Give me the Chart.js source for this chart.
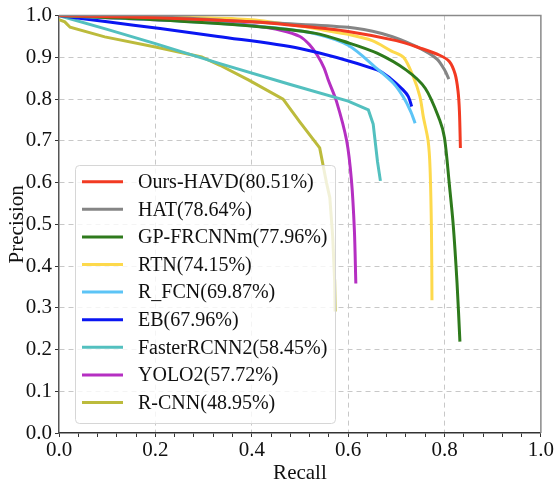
<!DOCTYPE html>
<html>
<head>
<meta charset="utf-8">
<script src="https://cdn.jsdelivr.net/npm/chart.js@4.4.0/dist/chart.umd.min.js"></script>
<style>
  html, body { margin: 0; padding: 0; background: #fff; }
  #wrap { width: 555px; height: 486px; }
</style>
</head>
<body>
<div id="wrap"><canvas id="chartPR"></canvas></div>
<script>
// precision-recall data
let labels = ['Ours-HAVD(80.51%)', 'HAT(78.64%)', 'GP-FRCNNm(77.96%)', 'RTN(74.15%)', 'R_FCN(69.87%)',
    'EB(67.96%)', 'FasterRCNN2(58.45%)', 'YOLO2(57.72%)', 'R-CNN(48.95%)'];
let colors = ['#f23a22', '#858585', '#2e7a1c', '#fdd94c', '#5cc4f6', '#0a16f2', '#53c0bf', '#b52fc2', '#bcbb3c'];

let recallHAVD = [0, 0.2, 0.4, 0.5, 0.6, 0.7, 0.75, 0.79, 0.81, 0.822, 0.828, 0.831, 0.833];
let precisionHAVD = [1.0, 0.995, 0.985, 0.975, 0.962, 0.94, 0.922, 0.905, 0.89, 0.86, 0.82, 0.77, 0.683];

let recallHAT = [0, 0.2, 0.32, 0.45, 0.6, 0.67, 0.72, 0.76, 0.785, 0.8, 0.809];
let precisionHAT = [1.0, 0.997, 0.99, 0.982, 0.972, 0.957, 0.937, 0.915, 0.895, 0.87, 0.848];

let recallGP = [0, 0.2, 0.4, 0.53, 0.6, 0.66, 0.72, 0.76, 0.79, 0.8, 0.81, 0.818, 0.826, 0.832];
let precisionGP = [1.0, 0.99, 0.975, 0.958, 0.935, 0.91, 0.87, 0.826, 0.75, 0.707, 0.596, 0.5, 0.36, 0.219];

let recallRTN = [0, 0.3, 0.4, 0.5, 0.55, 0.6, 0.65, 0.69, 0.715, 0.735, 0.749, 0.756, 0.766, 0.77, 0.773, 0.774];
let precisionRTN = [1.0, 0.995, 0.99, 0.975, 0.965, 0.955, 0.94, 0.915, 0.9, 0.854, 0.806, 0.758, 0.7, 0.635, 0.48, 0.318];

let recallRFCN = [0, 0.2, 0.32, 0.46, 0.53, 0.6, 0.66, 0.694, 0.714, 0.73, 0.739];
let precisionRFCN = [1.0, 0.99, 0.982, 0.969, 0.957, 0.929, 0.873, 0.838, 0.806, 0.77, 0.742];

let recallEB = [0, 0.1, 0.21, 0.33, 0.5, 0.66, 0.687, 0.714, 0.725, 0.732];
let precisionEB = [1.0, 0.985, 0.969, 0.95, 0.921, 0.87, 0.85, 0.822, 0.806, 0.782];

let recallFaster = [0, 0.1, 0.2, 0.334, 0.48, 0.6, 0.642, 0.652, 0.656, 0.661, 0.667];
let precisionFaster = [1.0, 0.967, 0.933, 0.885, 0.835, 0.795, 0.774, 0.74, 0.7, 0.65, 0.604];

let recallYOLO = [0, 0.2, 0.33, 0.41, 0.46, 0.5, 0.52, 0.536, 0.55, 0.559, 0.576, 0.597, 0.607, 0.613, 0.616];
let precisionYOLO = [1.0, 0.99, 0.984, 0.975, 0.965, 0.95, 0.93, 0.905, 0.875, 0.845, 0.794, 0.7, 0.604, 0.485, 0.358];

let recallRCNN = [0, 0.012, 0.023, 0.095, 0.2, 0.296, 0.334, 0.393, 0.465, 0.5, 0.541, 0.555, 0.562, 0.568, 0.572, 0.573];
let precisionRCNN = [0.99, 0.985, 0.972, 0.949, 0.925, 0.901, 0.881, 0.846, 0.8, 0.745, 0.683, 0.6, 0.564, 0.47, 0.365, 0.291];

let recalls = [recallHAVD, recallHAT, recallGP, recallRTN, recallRFCN, recallEB, recallFaster, recallYOLO, recallRCNN];
let precisions = [precisionHAVD, precisionHAT, precisionGP, precisionRTN, precisionRFCN, precisionEB, precisionFaster, precisionYOLO, precisionRCNN];
let tensions = [0.3, 0.3, 0.3, 0.3, 0.3, 0.3, 0, 0.3, 0];

let serif = "'Liberation Serif', 'Times New Roman', serif";

let datasets = labels.map((name, i) => ({
    label: name,
    data: recalls[i].map((r, j) => ({x: r, y: precisions[i][j]})),
    borderColor: colors[i],
    backgroundColor: colors[i],
    borderWidth: 3,
    pointRadius: 0,
    tension: tensions[i],
    fill: false
}));

// legend box inside the plot, semi-transparent like matplotlib
let insideLegend = {
    id: 'insideLegend',
    afterDatasetsDraw(chart) {
        let ctx = chart.ctx;
        ctx.save();
        ctx.beginPath();
        ctx.roundRect(75.5, 165.5, 260, 258, 4);
        ctx.fillStyle = 'rgba(255,255,255,0.8)';
        ctx.fill();
        ctx.strokeStyle = '#d6d6d6';
        ctx.lineWidth = 1;
        ctx.stroke();
        ctx.font = '20px ' + serif;
        ctx.textBaseline = 'middle';
        labels.forEach((name, i) => {
            let y = 181.7 + i * 27.6;
            ctx.strokeStyle = colors[i];
            ctx.lineWidth = 3;
            ctx.beginPath();
            ctx.moveTo(82, y);
            ctx.lineTo(123, y);
            ctx.stroke();
            ctx.fillStyle = '#111';
            ctx.fillText(name, 138, y + 1);
        });
        ctx.restore();
    },
    afterDraw(chart) {
        let a = chart.chartArea;
        let ctx = chart.ctx;
        ctx.save();
        ctx.strokeStyle = '#8a8a8a';
        ctx.lineWidth = 1.5;
        ctx.beginPath();
        ctx.moveTo(a.left, a.top);
        ctx.lineTo(a.right, a.top);
        ctx.lineTo(a.right, a.bottom);
        ctx.stroke();
        ctx.restore();
    }
};

let config = {
    type: 'line',
    data: { datasets: datasets },
    options: {
        responsive: true,
        maintainAspectRatio: false,
        animation: false,
        layout: { padding: { top: 13, right: 14, left: 0, bottom: 0 } },
        plugins: {
            legend: { display: false },
            tooltip: { enabled: false }
        },
        scales: {
            x: {
                type: 'linear',
                min: 0,
                max: 1,
                afterFit: s => { s.height = 53; },
                ticks: {
                    stepSize: 0.04,
                    autoSkip: false,
                    maxRotation: 0,
                    padding: 1,
                    color: '#111',
                    font: { family: serif, size: 21 },
                    callback: (v, i) => (i % 5 === 0 ? v.toFixed(1) : '')
                },
                grid: {
                    color: c => (c.index % 5 === 0 && c.index > 0 && c.index < 25 ? '#c8c8c8' : 'rgba(0,0,0,0)'),
                    tickColor: '#333',
                    tickLength: 4,
                    drawTicks: true
                },
                border: { color: '#333', width: 1.5, dash: [5, 4] },
                title: {
                    display: true,
                    text: 'Recall',
                    color: '#111',
                    padding: { top: -6, bottom: 0 },
                    font: { family: serif, size: 21 }
                }
            },
            y: {
                type: 'linear',
                min: 0,
                max: 1,
                afterFit: s => { s.width = 59; },
                ticks: {
                    stepSize: 0.1,
                    padding: 3,
                    color: '#111',
                    font: { family: serif, size: 21 },
                    callback: v => v.toFixed(1)
                },
                grid: {
                    color: c => (c.index > 0 && c.index < 10 ? '#c8c8c8' : 'rgba(0,0,0,0)'),
                    tickColor: '#333',
                    tickLength: 4
                },
                border: { color: '#555', width: 1.5, dash: [5, 4] },
                title: {
                    display: true,
                    text: 'Precision',
                    color: '#111',
                    padding: { top: 5, bottom: 0 },
                    font: { family: serif, size: 21 }
                }
            }
        }
    },
    plugins: [insideLegend]
};

let chartPR = new Chart(document.querySelector('#chartPR').getContext('2d'), config);
</script>
</body>
</html>
